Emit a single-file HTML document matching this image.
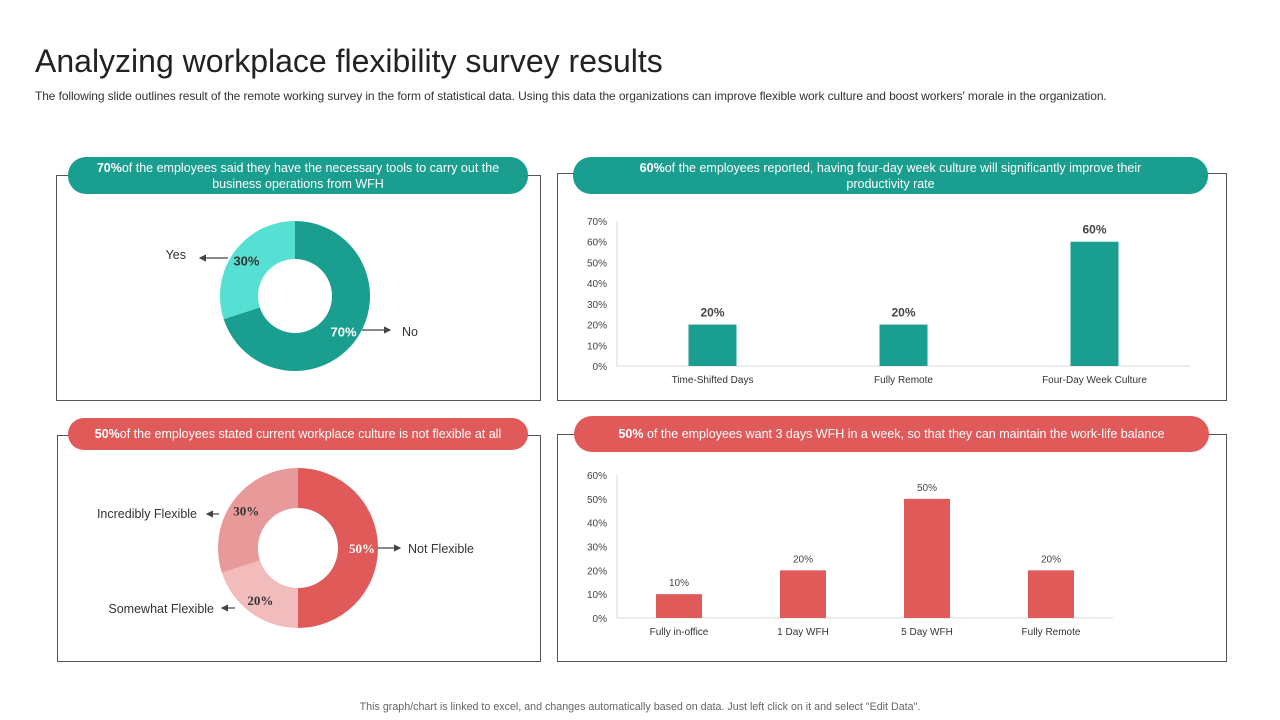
<!DOCTYPE html>
<html><head><meta charset="utf-8"><style>
body{margin:0;width:1280px;height:720px;background:#fff;font-family:"Liberation Sans",sans-serif;position:relative;overflow:hidden}
.abs{position:absolute}
.box{position:absolute;border:1px solid #555;box-sizing:border-box}
.pill{position:absolute;border-radius:18px;color:#fff;font-size:12.5px;text-align:center;display:flex;align-items:center;justify-content:center;line-height:16px;box-sizing:border-box;padding:0 14px}
</style></head><body>
<div class="abs" style="left:35px;top:43px;font-size:32px;color:#222">Analyzing workplace flexibility survey results</div>
<div class="abs" style="left:35px;top:89px;font-size:12px;letter-spacing:-0.1px;color:#333;white-space:nowrap">The following slide outlines result of the remote working survey in the form of statistical data. Using this data the organizations can improve flexible work culture and boost workers' morale in the organization.</div>

<div class="box" style="left:56px;top:175px;width:485px;height:226px"></div>
<div class="box" style="left:557px;top:173px;width:670px;height:228px"></div>
<div class="box" style="left:57px;top:435px;width:484px;height:227px"></div>
<div class="box" style="left:557px;top:434px;width:670px;height:228px"></div>

<div class="pill" style="left:68px;top:157px;width:460px;height:37px;background:#1a9e8f;padding:0 16px"><span><b>70%</b>of the employees said they have the necessary tools to carry out the business operations from WFH</span></div>
<div class="pill" style="left:573px;top:157px;width:635px;height:37px;background:#1a9e8f;padding:0 45px"><span><b>60%</b>of the employees reported, having four-day week culture will significantly improve their productivity rate</span></div>
<div class="pill" style="left:68px;top:418px;width:460px;height:32px;background:#e05a5a"><span><b>50%</b>of the employees stated current workplace culture is not flexible at all</span></div>
<div class="pill" style="left:574px;top:416px;width:635px;height:36px;background:#e05a5a"><span><b>50%</b> of the employees want 3 days WFH in a week, so that they can maintain the work-life balance</span></div>

<div class="abs" style="left:0;width:1280px;top:701px;text-align:center;font-size:10.7px;color:#666">This graph/chart is linked to excel, and changes automatically based on data. Just left click on it and select "Edit Data".</div>

<svg id="s" class="abs" style="left:0;top:0" width="1280" height="720">
<defs><marker id="ar" markerWidth="6" markerHeight="6" refX="5" refY="3" orient="auto"><path d="M0,0L6,3L0,6z" fill="#444"/></marker></defs>
</svg>
<script>
const donut1Labels=["No","Yes"];
const donut1Values=[70,30];
const donut2Labels=["Not Flexible","Somewhat Flexible","Incredibly Flexible"];
const donut2Values=[50,20,30];
const bar1Categories=["Time-Shifted Days","Fully Remote","Four-Day Week Culture"];
const bar1Values=[20,20,60];
const bar1Ticks=[0,10,20,30,40,50,60,70];
const bar2Categories=["Fully in-office","1 Day WFH","5 Day WFH","Fully Remote"];
const bar2Values=[10,20,50,20];
const bar2Ticks=[0,10,20,30,40,50,60];

const S=document.getElementById('s');const NS="http://www.w3.org/2000/svg";
function mk(t,a,txt){const e=document.createElementNS(NS,t);for(const k in a)e.setAttribute(k,a[k]);if(txt!=null)e.textContent=txt;S.appendChild(e);return e;}
function arc(cx,cy,R,r,a0,a1){const p=(rr,a)=>[cx+rr*Math.sin(a),cy-rr*Math.cos(a)];const L=a1-a0>Math.PI?1:0;
const [x0,y0]=p(R,a0),[x1,y1]=p(R,a1),[x2,y2]=p(r,a1),[x3,y3]=p(r,a0);
return `M${x0},${y0}A${R},${R} 0 ${L} 1 ${x1},${y1}L${x2},${y2}A${r},${r} 0 ${L} 0 ${x3},${y3}Z`;}
function donut(cx,cy,R,r,vals,cols,name,lblFont,lblCols){const tot=vals.reduce((a,b)=>a+b,0);let a=0;
vals.forEach((v,i)=>{const a1=a+v/tot*2*Math.PI;const e=mk('path',{d:arc(cx,cy,R,r,a,a1),fill:cols[i]});


const m=(a+a1)/2,rr=(R+r)/2+4;const t=mk('text',{x:cx+rr*Math.sin(m),y:cy-rr*Math.cos(m)+5,'text-anchor':'middle','font-size':13,'font-weight':'bold','font-family':lblFont,fill:lblCols[i]},v+'%');


a=a1;});}
donut(295,296,75,37,donut1Values,["#1a9e8f","#55e0d3"],'tools-donut','"Liberation Sans",sans-serif',["#fff","#333"]);
donut(298,548,80,40,donut2Values,["#e05a5a","#f2bcbc","#e89a9a"],'flex-donut','"Liberation Serif",serif',["#fff","#333","#333"]);
function lab(x1,x2,y,tx,ty,anchor,text,name){mk('line',{x1,y1:y,x2,y2:y,stroke:'#444','stroke-width':1.2,'marker-end':'url(#ar)'});
const t=mk('text',{x:tx,y:ty,'text-anchor':anchor,'font-size':12.5,fill:'#333'},text);

}
lab(228,200,258,186,259,'end',donut1Labels[1],'label-yes');
lab(362,390,330,402,336,'start',donut1Labels[0],'label-no');
lab(219,207,514,197,518,'end',donut2Labels[2],'label-incredibly-flexible');
lab(235,222,608,214,613,'end',donut2Labels[1],'label-somewhat-flexible');
lab(378,400,548,408,553,'start',donut2Labels[0],'label-not-flexible');

function bars(o){const {x0,x1,y0,ytop,max,ticks,cats,vals,bw,col,name,vfs,vbold}=o;
const ys=v=>y0-(v/max)*(y0-ytop);const step=(x1-x0)/cats.length;
mk('line',{x1:x0,y1:ytop,x2:x0,y2:y0,stroke:'#d9d9d9'});mk('line',{x1:x0,y1:y0,x2:x1,y2:y0,stroke:'#d9d9d9'});
ticks.forEach(t=>{const e=mk('text',{x:x0-10,y:ys(t)+4,'text-anchor':'end','font-size':10,fill:'#444'},t+'%');

});
cats.forEach((c,i)=>{const cx=x0+step*(i+0.5);const v=vals[i];
const r=mk('rect',{x:cx-bw/2,y:ys(v),width:bw,height:y0-ys(v),fill:col});


const t=mk('text',{x:cx,y:ys(v)-8,'text-anchor':'middle','font-size':vfs,'font-weight':vbold?'bold':'normal',fill:'#444'},v+'%');


const l=mk('text',{x:cx,y:y0+17,'text-anchor':'middle','font-size':10,fill:'#333'},c);

});}
bars({x0:617,x1:1190,y0:366,ytop:221,max:70,ticks:bar1Ticks,cats:bar1Categories,vals:bar1Values,bw:48,col:'#1a9e8f',name:'four-day-chart',vfs:12,vbold:true});
bars({x0:617,x1:1113,y0:618,ytop:475,max:60,ticks:bar2Ticks,cats:bar2Categories,vals:bar2Values,bw:46,col:'#e05a5a',name:'wfh-chart',vfs:10,vbold:false});
</script>
</body></html>
